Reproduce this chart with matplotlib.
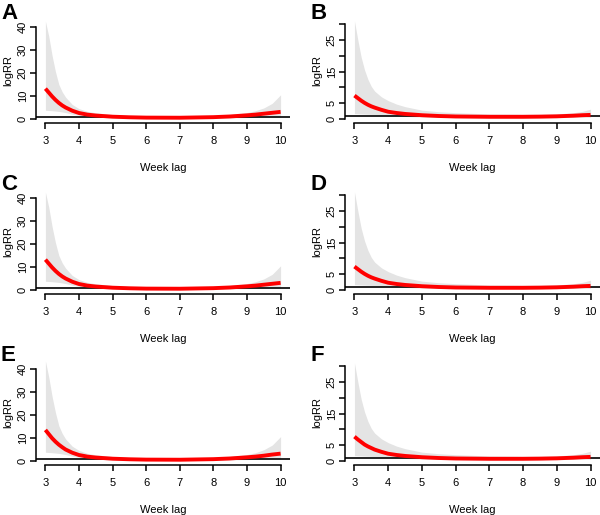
import matplotlib
matplotlib.use("Agg")
import matplotlib.pyplot as plt

plt.rcParams['font.family'] = ['Liberation Sans', 'DejaVu Sans']

# week lag grid (shared by all panels)
lag = [3.0, 3.1, 3.2, 3.3, 3.4, 3.5, 3.6, 3.8, 4.0, 4.25, 4.5, 5.0, 5.5,
       6.0, 7.0, 8.0, 8.5, 9.0, 9.25, 9.5, 9.75, 10.0]

# panel A / C / E : fitted curve and confidence band
a_fit = [13.2, 11.5, 9.8, 8.3, 7.0, 5.9, 5.0, 3.6, 2.6, 1.9, 1.5, 1.0, 0.75,
         0.6, 0.55, 0.8, 1.1, 1.6, 1.9, 2.3, 2.7, 3.1]
a_upp = [42.5, 36, 27.5, 20.5, 15, 11.8, 9.5, 6.3, 4.5, 3.3, 2.7, 1.9, 1.5,
         1.3, 1.2, 1.5, 2.0, 2.8, 3.6, 4.8, 6.8, 10.5]
a_low = [3.8, 3.7, 3.6, 3.45, 3.3, 3.05, 2.8, 2.1, 1.6, 1.1, 0.8, 0.5, 0.35,
         0.3, 0.3, 0.4, 0.5, 0.6, 0.7, 0.8, 0.85, 0.9]

e_fit = [13.5, 11.7, 9.9, 8.4, 7.1, 6.0, 5.0, 3.6, 2.6, 1.9, 1.5, 1.0, 0.75,
         0.6, 0.55, 0.8, 1.1, 1.6, 1.9, 2.3, 2.8, 3.2]
e_upp = [43.5, 36.5, 28, 21, 15.3, 12, 9.6, 6.4, 4.6, 3.3, 2.7, 1.9, 1.5,
         1.3, 1.2, 1.5, 2.0, 2.8, 3.6, 4.9, 6.9, 10.6]

# panel B / D / F
b_fit = [7.4, 6.6, 5.8, 5.1, 4.5, 4.0, 3.6, 2.9, 2.3, 1.9, 1.6, 1.2, 0.95,
         0.8, 0.7, 0.7, 0.75, 0.85, 0.95, 1.05, 1.2, 1.3]
b_upp = [31, 25, 19.5, 15.5, 12.5, 10.3, 8.8, 7.0, 5.8, 4.7, 3.9, 2.8, 2.3,
         2.0, 1.6, 1.5, 1.5, 1.6, 1.8, 2.0, 2.4, 3.1]
b_low = [1.7, 1.65, 1.6, 1.55, 1.5, 1.45, 1.4, 1.2, 1.1, 0.95, 0.8, 0.6, 0.5,
         0.45, 0.4, 0.4, 0.42, 0.45, 0.48, 0.5, 0.52, 0.55]

f_fit = [7.7, 6.8, 6.0, 5.2, 4.6, 4.1, 3.6, 2.9, 2.3, 1.9, 1.6, 1.2, 0.95,
         0.8, 0.7, 0.7, 0.75, 0.85, 0.95, 1.05, 1.2, 1.3]

ticks_40 = [0, 10, 20, 30, 40]
ticks_30 = [0, 5, 10, 15, 20, 25, 30]
labels_30 = ['0', '5', '', '15', '', '25', '']
xticks = [3, 4, 5, 6, 7, 8, 9, 10]

panels = [
    ("A", a_low, a_fit, a_upp, ticks_40, [str(t) for t in ticks_40], (-1.74, 43.9)),
    ("B", b_low, b_fit, b_upp, ticks_30, labels_30, (-1.26, 31.9)),
    ("C", a_low, a_fit, a_upp, ticks_40, [str(t) for t in ticks_40], (-1.74, 43.9)),
    ("D", b_low, b_fit, b_upp, ticks_30, labels_30, (-1.26, 31.9)),
    ("E", a_low, e_fit, e_upp, ticks_40, [str(t) for t in ticks_40], (-1.74, 43.9)),
    ("F", b_low, f_fit, b_upp, ticks_30, labels_30, (-1.26, 31.9)),
]

W, H = 600, 515
fig = plt.figure(figsize=(W / 100, H / 100), dpi=100)

col_x = [(36, 290), (345, 600)]
for i, (letter, low, fit, upp, yt, ylab, ylim) in enumerate(panels):
    row, col = i // 2, i % 2
    x0, x1 = col_x[col]
    bottom = 123 + row * 171
    top = bottom - 105
    ax = fig.add_axes([x0 / W, 1 - bottom / H, (x1 - x0) / W, (bottom - top) / H])

    ax.fill_between(lag, low, upp, color='#e4e4e4', lw=0)
    ax.axhline(1, color='black', lw=1.2)
    ax.plot(lag, fit, color='#ff0000', lw=2.8, solid_capstyle='butt')

    ax.set_xlim(2.72, 10.28)
    ax.set_ylim(*ylim)
    for s in ['top', 'right']:
        ax.spines[s].set_visible(False)
    ax.spines['left'].set_bounds(yt[0], yt[-1])
    ax.spines['bottom'].set_bounds(3, 10)
    ax.spines['left'].set_linewidth(1.1)
    ax.spines['bottom'].set_linewidth(1.1)

    ax.set_xticks(xticks)
    ax.set_xticklabels([str(t) for t in xticks])
    ax.set_yticks(yt)
    ax.set_yticklabels(ylab, rotation=90, va='center')
    ax.tick_params(axis='x', length=4.5, width=1.1, pad=5, labelsize=8)
    ax.tick_params(axis='y', length=4.5, width=1.1, pad=1.5, labelsize=8)

    ax.set_xlabel("Week lag", fontsize=8, labelpad=12)
    ax.set_ylabel("logRR", fontsize=8, labelpad=3)

    fig.text((x0 - 35) / W, 1 - (top - 15) / H, letter, fontsize=16,
             fontweight='bold', ha='left', va='top')

fig.savefig("out.png", dpi=100)
